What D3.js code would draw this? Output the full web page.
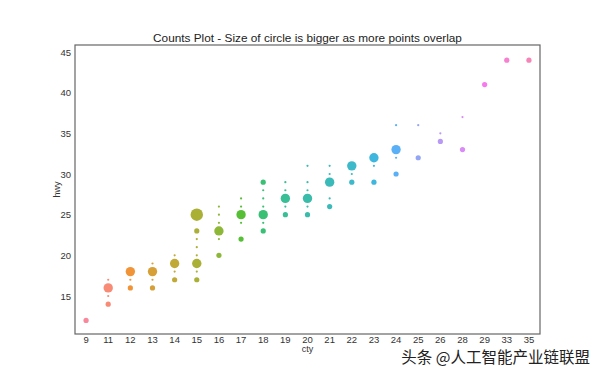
<!DOCTYPE html>
<html lang="en">
<head>
    <meta charset="UTF-8">
    <title>Counts Plot</title>
    <script src="https://d3js.org/d3.v7.min.js"></script>
    <style>
        body { margin: 0; background: #fff; }
        text { font-family: "Liberation Sans", Arial, sans-serif; }
    </style>
</head>
<body>
    <div id="chart"></div>
    <script>
        // cty categories on the x axis
        const cty = ["9", "11", "12", "13", "14", "15", "16", "17", "18", "19", "20",
                     "21", "22", "23", "24", "25", "26", "28", "29", "33", "35"];

        // hwy values seen for each cty (ascending)
        const hwyByCty = [
            [12],
            [14, 15, 16, 17],
            [16, 17, 18],
            [16, 17, 18, 19],
            [17, 18, 19, 20],
            [17, 18, 19, 20, 21, 22, 23, 25],
            [20, 22, 23, 24, 25, 26],
            [22, 24, 25, 26, 27],
            [23, 24, 25, 26, 27, 28, 29],
            [25, 26, 27, 28, 29],
            [25, 26, 27, 28, 29, 31],
            [26, 27, 29, 30, 31],
            [29, 30, 31],
            [29, 31, 32],
            [30, 32, 33, 36],
            [32, 36],
            [34, 35],
            [33, 37],
            [41],
            [44],
            [44]
        ];

        // the size sequence stripplot ends up using: n-th point of a column gets n-th count
        const counts = [5, 1, 9, 2, 1, 1, 5, 12];

        const yTicks = [15, 20, 25, 30, 35, 40, 45];

        const width = 600, height = 375;
        const margin = {top: 45, right: 60, bottom: 41, left: 75};

        // seaborn's husl palette (h=.01, s=.9, l=.7)
        function huslToHex(H, S, L) {
            const m = [[3.2406, -1.5372, -0.4986], [-0.9689, 1.8758, 0.0415], [0.0557, -0.2040, 1.0570]];
            const refU = 0.19784, refV = 0.46834, e = 0.008856, k = 903.3;
            const hr = H / 360 * 2 * Math.PI, sinH = Math.sin(hr), cosH = Math.cos(hr);
            const sub1 = Math.pow(L + 16, 3) / 1560896;
            const sub2 = sub1 > e ? sub1 : L / k;
            let maxC = Infinity;
            m.forEach(([m1, m2, m3]) => {
                const top = (0.99915 * m1 + 1.05122 * m2 + 1.14460 * m3) * sub2;
                const rb = 0.86330 * m3 - 0.17266 * m2;
                const lb = 0.12949 * m3 - 0.38848 * m1;
                const bottom = (rb * sinH + lb * cosH) * sub2;
                [0, 1].forEach(t => {
                    const C = L * (top - 1.05122 * t) / (bottom + 0.17266 * sinH * t);
                    if (C > 0 && C < maxC) maxC = C;
                });
            });
            const C = maxC / 100 * S;
            const U = C * cosH, V = C * sinH;
            const t = (L + 16) / 116;
            const varY = t * t * t > e ? t * t * t : (116 * t - 16) / k;
            const varU = U / (13 * L) + refU, varV = V / (13 * L) + refV;
            const Y = varY;
            const X = -(9 * Y * varU) / ((varU - 4) * varV - varU * varV);
            const Z = (9 * Y - 15 * varV * Y - varV * X) / (3 * varV);
            const rgb = m.map(r => {
                const c = r[0] * X + r[1] * Y + r[2] * Z;
                const v = c <= 0.0031308 ? 12.92 * c : 1.055 * Math.pow(c, 1 / 2.4) - 0.055;
                return Math.round(Math.max(0, Math.min(1, v)) * 255);
            });
            return d3.rgb(rgb[0], rgb[1], rgb[2]).formatHex();
        }
        const palette = cty.map((c, i) => huslToHex(((i / cty.length + 0.01) % 1) * 359, 0.9 * 99, 0.7 * 99));

        const points = [];
        cty.forEach((c, i) => {
            hwyByCty[i].forEach((h, j) => points.push({cty: c, hwy: h, count: counts[j], color: palette[i]}));
        });

        const x = d3.scaleBand()
            .domain(cty)
            .range([margin.left, width - margin.right]);

        const y = d3.scaleLinear()
            .domain([10.33, 45.86])
            .range([height - margin.bottom, margin.top]);

        const svg = d3.select("#chart").append("svg")
            .attr("width", width)
            .attr("height", height);

        svg.append("g")
            .selectAll("circle")
            .data(points)
            .enter().append("circle")
            .attr("cx", d => x(d.cty) + x.bandwidth() / 2)
            .attr("cy", d => y(d.hwy))
            .attr("r", d => Math.max(1.1, d.count * 0.52))
            .attr("fill", d => d.color);

        // axes without tick marks (seaborn "white" style)
        const xAxis = svg.append("g")
            .attr("transform", `translate(0,${height - margin.bottom})`)
            .call(d3.axisBottom(x).tickSize(0).tickPadding(2));
        const yAxis = svg.append("g")
            .attr("transform", `translate(${margin.left},0)`)
            .call(d3.axisLeft(y).tickValues(yTicks).tickSize(0).tickPadding(4));
        [xAxis, yAxis].forEach(g => {
            g.select(".domain").remove();
            g.selectAll("text").attr("fill", "#333").attr("font-size", 9.5)
                .style("font-family", '"Liberation Sans", Arial, sans-serif');
        });

        svg.append("rect")
            .attr("x", margin.left)
            .attr("y", margin.top)
            .attr("width", width - margin.left - margin.right)
            .attr("height", height - margin.top - margin.bottom)
            .attr("fill", "none")
            .attr("stroke", "#666")
            .attr("stroke-width", 1.2);

        svg.append("text")
            .attr("x", (margin.left + width - margin.right) / 2)
            .attr("y", 42)
            .attr("text-anchor", "middle")
            .attr("font-size", 11.8)
            .attr("fill", "#222")
            .text("Counts Plot - Size of circle is bigger as more points overlap");

        svg.append("text")
            .attr("x", (margin.left + width - margin.right) / 2)
            .attr("y", 352)
            .attr("text-anchor", "middle")
            .attr("font-size", 9)
            .attr("fill", "#333")
            .text("cty");

        svg.append("text")
            .attr("transform", `translate(60,${(margin.top + height - margin.bottom) / 2}) rotate(-90)`)
            .attr("text-anchor", "middle")
            .attr("font-size", 9)
            .attr("fill", "#333")
            .text("hwy");

        // watermark
        svg.append("text")
            .attr("x", 590)
            .attr("y", 363)
            .attr("text-anchor", "end")
            .attr("font-size", 15.5)
            .attr("fill", "#222")
            .attr("stroke", "#fff")
            .attr("stroke-width", 2)
            .attr("paint-order", "stroke")
            .style("font-family", '"Noto Sans CJK SC", sans-serif')
            .text("头条 @人工智能产业链联盟");
    </script>
</body>
</html>
